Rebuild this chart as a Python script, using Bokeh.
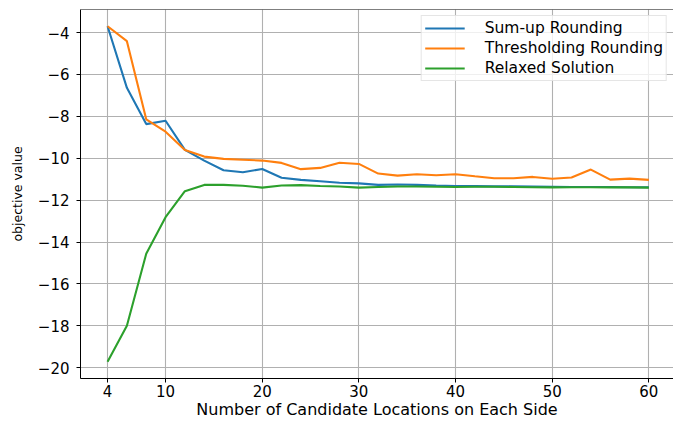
from bokeh.plotting import figure
from bokeh.models import FixedTicker, CustomJSTickFormatter, Span, Range1d, Legend, LegendItem
from bokeh.embed import file_html
from bokeh.resources import INLINE

# Candidate locations per side
n_side = [4, 6, 8, 10, 12, 14, 16, 18, 20, 22, 24, 26, 28, 30, 32,
          34, 36, 38, 40, 42, 44, 46, 48, 50, 52, 54, 56, 58, 60]

sum_up = [-3.70, -6.64, -8.37, -8.21, -9.60, -10.11, -10.57, -10.67, -10.51,
          -10.93, -11.03, -11.10, -11.17, -11.20, -11.27, -11.25, -11.27, -11.30,
          -11.32, -11.33, -11.34, -11.34, -11.35, -11.36, -11.37, -11.37, -11.37,
          -11.38, -11.38]

thresholding = [-3.70, -4.41, -8.14, -8.73, -9.60, -9.92, -10.03, -10.07, -10.11,
                -10.22, -10.52, -10.46, -10.21, -10.27, -10.73, -10.83, -10.76, -10.81,
                -10.76, -10.86, -10.95, -10.95, -10.89, -10.98, -10.92, -10.54, -11.02,
                -10.97, -11.03]

relaxed = [-19.71, -17.99, -14.56, -12.81, -11.57, -11.27, -11.27, -11.31, -11.40,
           -11.30, -11.28, -11.32, -11.35, -11.40, -11.37, -11.35, -11.35, -11.36,
           -11.37, -11.36, -11.36, -11.37, -11.38, -11.39, -11.38, -11.38, -11.39,
           -11.39, -11.40]

x_ticks = [4, 10, 20, 30, 40, 50, 60]
y_ticks = [-20, -18, -16, -14, -12, -10, -8, -6, -4]

FONT = "DejaVu Sans"
FS = "15px"

p = figure(width=673, height=421, output_backend="svg", toolbar_location=None,
           x_range=Range1d(1.2, 62.55), y_range=Range1d(-20.51, -2.9),
           min_border_left=80, min_border_right=0, min_border_top=9, min_border_bottom=42)
p.outline_line_color = None
p.background_fill_color = "white"
p.border_fill_color = "white"

# grid
for g in (p.xgrid, p.ygrid):
    g.grid_line_color = "#b0b0b0"
    g.grid_line_width = 1.1

# axes
for ax in (p.xaxis, p.yaxis):
    ax.axis_line_color = "black"
    ax.axis_line_width = 1
    ax.major_tick_line_color = "black"
    ax.major_tick_in = 0
    ax.major_tick_out = 4
    ax.minor_tick_line_color = None
    ax.major_label_text_font = FONT
    ax.major_label_text_font_size = FS
    ax.major_label_text_color = "black"
    ax.axis_label_text_font = FONT
    ax.axis_label_text_font_style = "normal"
    ax.axis_label_text_color = "black"
    ax.formatter = CustomJSTickFormatter(code="return tick.toFixed(0).replace('-', '\u2212');")

p.xaxis.ticker = FixedTicker(ticks=x_ticks)
p.yaxis.ticker = FixedTicker(ticks=y_ticks)
p.xaxis.axis_label = "Number of Candidate Locations on Each Side"
p.yaxis.axis_label = "objective value"
p.xaxis.axis_label_text_font_size = "16px"
p.yaxis.axis_label_text_font_size = "12.5px"
p.xaxis.major_label_standoff = 2
p.xaxis.axis_label_standoff = 0
p.yaxis.major_label_standoff = 7
p.yaxis.axis_label_standoff = 10

# top spine
p.add_layout(Span(location=-2.9, dimension="width", line_color="black", line_width=1))

r1 = p.line(n_side, sum_up, line_color="#1f77b4", line_width=2.1)
r2 = p.line(n_side, thresholding, line_color="#ff7f0e", line_width=2.1)
r3 = p.line(n_side, relaxed, line_color="#2ca02c", line_width=2.1)

legend = Legend(items=[
    LegendItem(label="Sum-up Rounding", renderers=[r1]),
    LegendItem(label="Thresholding Rounding", renderers=[r2]),
    LegendItem(label="Relaxed Solution", renderers=[r3]),
], location="top_right")
legend.margin = 6
legend.padding = 3
legend.spacing = 2
legend.glyph_width = 40
legend.glyph_height = 12
legend.label_height = 12
legend.label_standoff = 20
legend.label_text_font = FONT
legend.label_text_font_size = "15.5px"
legend.label_text_color = "black"
legend.border_line_color = "#cccccc"
legend.border_line_width = 1
legend.background_fill_color = "white"
legend.background_fill_alpha = 0.8
p.add_layout(legend)

open("out.html", "w").write(file_html(p, INLINE))
